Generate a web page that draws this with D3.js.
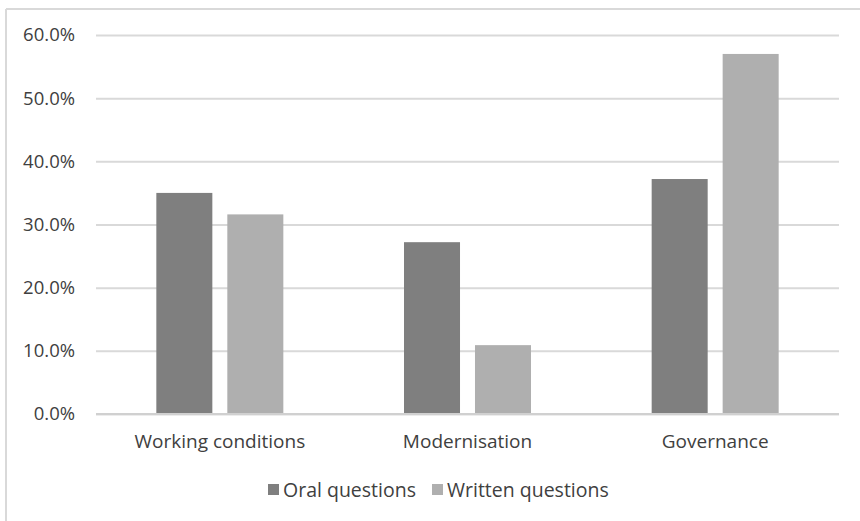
<!DOCTYPE html>
<html>
<head>
<meta charset="utf-8">
<script src="https://cdn.jsdelivr.net/npm/d3@7"></script>
<style>
  html, body { margin: 0; padding: 0; background: #fff; }
  svg { display: block; }
  text { font-family: "Open Sans", "Noto Sans", sans-serif; fill: #404040; }
</style>
</head>
<body>
<div id="chart"></div>
<script>
// Share of questions per topic, by question type
const categories = ["Working conditions", "Modernisation", "Governance"];
const seriesNames = ["Oral questions", "Written questions"];
const oralValues = [35.0, 27.2, 37.2];
const writtenValues = [31.6, 10.9, 57.0];
const yTicks = [0, 10, 20, 30, 40, 50, 60];

const seriesColors = ["#7f7f7f", "#afafaf"];
const seriesValues = [oralValues, writtenValues];

const W = 860, H = 521;
const plot = { left: 96, right: 839, top: 35, bottom: 414 };

const svg = d3.select("#chart").append("svg")
  .attr("width", W).attr("height", H);

// Chart frame
svg.append("line").attr("x1", 6).attr("x2", W).attr("y1", 9).attr("y2", 9)
  .attr("stroke", "#d9d9d9").attr("stroke-width", 2);
svg.append("line").attr("x1", 6).attr("x2", 6).attr("y1", 9).attr("y2", H)
  .attr("stroke", "#d9d9d9").attr("stroke-width", 2);

const y = d3.scaleLinear().domain([0, 60]).range([plot.bottom, plot.top]);
const x0 = d3.scaleBand().domain(categories).range([plot.left, plot.right])
  .paddingInner(0).paddingOuter(0);
const groupWidth = 127;
const x1 = d3.scaleBand().domain(seriesNames)
  .range([(x0.bandwidth() - groupWidth) / 2, (x0.bandwidth() + groupWidth) / 2])
  .paddingInner(0.211);

// Gridlines and tick labels
const yAxis = d3.axisLeft(y).tickValues(yTicks)
  .tickSize(-(plot.right - plot.left))
  .tickFormat(d => d.toFixed(1) + "%")
  .tickPadding(21);
const gy = svg.append("g").attr("transform", `translate(${plot.left},0)`).call(yAxis);
gy.select(".domain").remove();
gy.selectAll(".tick line").attr("stroke", "#d9d9d9").attr("stroke-width", 2);
gy.selectAll(".tick text").attr("font-size", 18.5).attr("fill", "#404040")
  .attr("font-family", "'Open Sans', sans-serif");

// Bars
const groups = svg.append("g").selectAll("g").data(categories).join("g")
  .attr("transform", d => `translate(${x0(d)},0)`);
groups.selectAll("rect")
  .data((c, i) => seriesNames.map((s, k) => ({ s, k, v: seriesValues[k][i] })))
  .join("rect")
  .attr("x", d => x1(d.s))
  .attr("width", x1.bandwidth())
  .attr("y", d => y(d.v))
  .attr("height", d => y(0) - y(d.v))
  .attr("fill", d => seriesColors[d.k]);

// Baseline
svg.append("line").attr("x1", plot.left).attr("x2", plot.right)
  .attr("y1", y(0)).attr("y2", y(0)).attr("stroke", "#d0d0d0").attr("stroke-width", 2);

// Category axis
const xAxis = d3.axisBottom(x0).tickSize(0).tickPadding(21);
const gx = svg.append("g").attr("transform", `translate(0,${plot.bottom})`).call(xAxis);
gx.select(".domain").remove();
gx.selectAll(".tick text").attr("font-size", 19).attr("fill", "#404040")
  .attr("font-family", "'Open Sans', sans-serif");

// Legend
const legend = svg.append("g").attr("transform", "translate(0,490)");
const legendX = [268, 432];
seriesNames.forEach((s, k) => {
  const g = legend.append("g").attr("transform", `translate(${legendX[k]},0)`);
  g.append("rect").attr("x", 0).attr("y", -6).attr("width", 11).attr("height", 11)
    .attr("fill", seriesColors[k]);
  g.append("text").attr("x", 15).attr("y", 0).attr("dy", "0.35em")
    .attr("font-size", 19.5).text(s);
});
</script>
</body>
</html>
